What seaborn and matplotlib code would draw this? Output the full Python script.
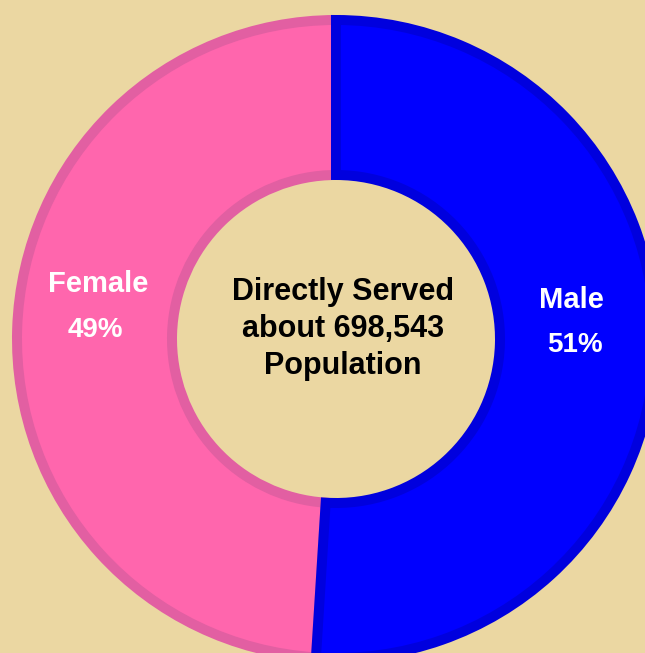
import matplotlib
matplotlib.use("Agg")
import matplotlib.pyplot as plt
import seaborn as sns

# data
genders = ["Male", "Female"]
shares = [51, 49]
pct_labels = ["51%", "49%"]
center_text = "Directly Served\nabout 698,543\nPopulation"

face_colors = ["#0000FF", "#FF66AD"]
edge_colors = ["#0000DE", "#E25FA2"]
bg = "#EBD7A2"

sns.set_theme(style="white")
plt.rcParams['font.family'] = ['Liberation Sans', 'DejaVu Sans']

W, H = 645, 653
fig = plt.figure(figsize=(W / 100, H / 100), dpi=100, facecolor=bg)
ax = fig.add_axes([0, 0, 1, 1])
ax.set_facecolor(bg)

# donut centre sits at pixel (336, 339), outer radius 324 px, hole 159 px
cx, cy, R = 336, 339, 324
band = 10  # px, border drawn as a centred stroke
r_out = 1 - (band / 2) / R
r_in = 159 / R + (band / 2) / R

wedges, _ = ax.pie(shares, colors=face_colors, startangle=90, counterclock=False,
                   radius=r_out, wedgeprops=dict(width=r_out - r_in,
                                                 linewidth=band * 72 / 100))
ax.set_aspect("auto")
ax.set_xlim(-cx / R, (W - cx) / R)
ax.set_ylim(-(H - cy) / R, cy / R)
ax.axis("off")
for w, ec, z in zip(wedges, edge_colors, [3, 2]):
    w.set_edgecolor(ec)
    w.set_zorder(z)


def px(x, y):
    return x / W, 1 - y / H


ax.text(*px(98, 284), genders[1], transform=ax.transAxes, ha="center", va="center",
        color="white", fontsize=21, fontweight="bold", zorder=5)
ax.text(*px(95, 330), pct_labels[1], transform=ax.transAxes, ha="center", va="center",
        color="white", fontsize=20, fontweight="bold", zorder=5)
ax.text(*px(571, 300), genders[0], transform=ax.transAxes, ha="center", va="center",
        color="white", fontsize=21, fontweight="bold", zorder=5)
ax.text(*px(575, 345), pct_labels[0], transform=ax.transAxes, ha="center", va="center",
        color="white", fontsize=20, fontweight="bold", zorder=5)
ax.text(*px(343, 329), center_text, transform=ax.transAxes, ha="center", va="center",
        color="black", fontsize=22, fontweight="bold", linespacing=1.3, zorder=5)

fig.savefig("out.png", dpi=100, facecolor=bg)
